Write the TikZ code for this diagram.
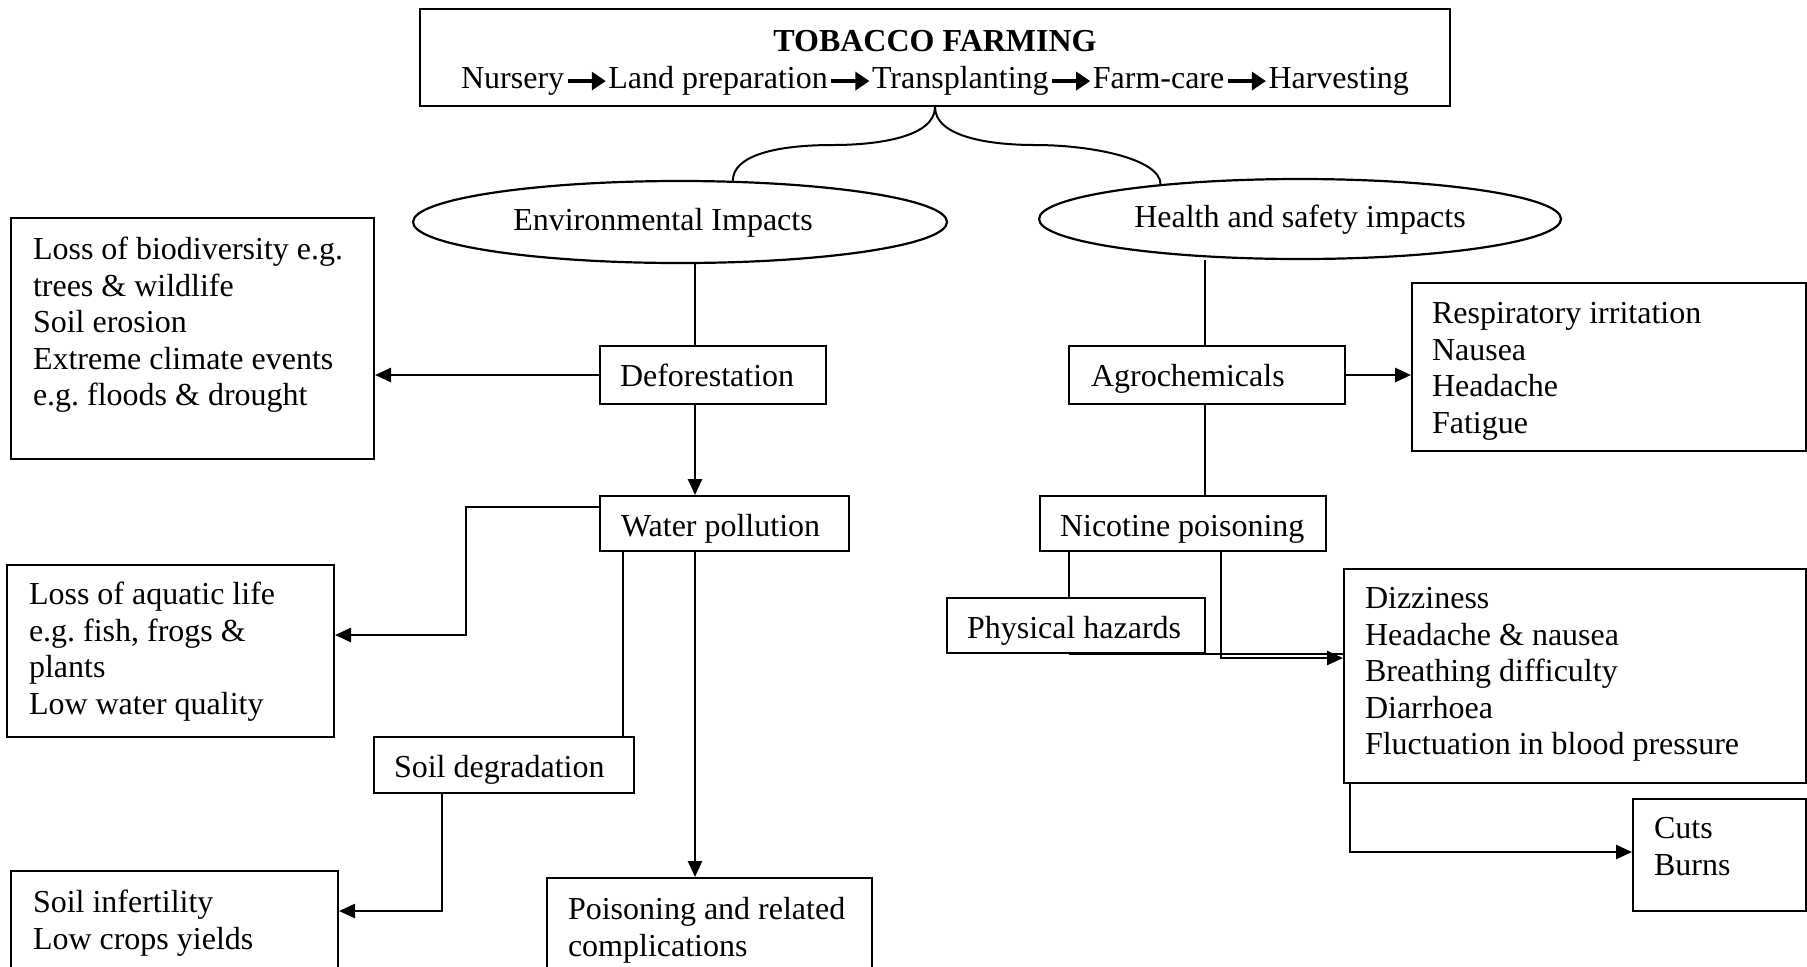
\documentclass[tikz,border=0pt]{standalone}
\usepackage{fontspec}
\setmainfont{Liberation Serif}
\usetikzlibrary{shapes.geometric,arrows.meta,calc}
\frenchspacing

\newcommand\mtext[5]{\parbox[c][#2][t]{#1}{\vspace*{#4}\leftskip=#3\relax\rightskip=0pt plus 1fil\parindent=0pt\parfillskip=0pt plus 1fil\frenchspacing\strut #5}}
\newcommand\ctext[4]{\parbox[c][#2][t]{#1}{\vspace*{#3}\centering\strut #4}}
\newcommand\tfarrow{\hspace{1pt}\tikz[baseline=-3.5pt]\draw[line width=1.6pt,-{Triangle[length=7pt,width=9pt]}] (0pt,0pt) -- (19pt,0pt);\hspace{0.5pt}}

\tikzset{
  bx/.style={draw, line width=1pt, rectangle, inner sep=0pt, anchor=north west},
  ell/.style={draw, line width=1.1pt, ellipse, inner sep=0pt, text height=11pt, text depth=3pt},
  ln/.style={line width=0.7pt},
  thk/.style={line width=1.3pt},
  arr/.style={line width=1.3pt, -{Triangle[length=8pt,width=7pt]}},
  brc/.style={line width=1pt},
}

\begin{document}
\begin{tikzpicture}[x=0.5pt,y=-0.5pt,font=\fontsize{16pt}{18.25pt}\selectfont]
\useasboundingbox (0,0) rectangle (1807,966);
\clip (0,0) rectangle (1807,966);

% top box
\node[bx] (top) at (419,8) {\ctext{515pt}{48.5pt}{8.5pt}{\textbf{TOBACCO FARMING}\\Nursery\tfarrow Land preparation\tfarrow Transplanting\tfarrow Farm-care\tfarrow Harvesting}};

% ellipses
\node[ell, minimum width=267pt, minimum height=41pt] (env) at (680,222) {\hspace*{-17pt}Environmental Impacts};
\node[ell, minimum width=261pt, minimum height=40pt] (health) at (1300,219) {Health and safety impacts};

% left side boxes
\node[bx] (bio) at (10,217) {\mtext{181.5pt}{120.5pt}{11pt}{8pt}{Loss of biodiversity e.g.\\trees \& wildlife\\Soil erosion\\Extreme climate events\\e.g. floods \& drought}};
\node[bx] (defor) at (599,345) {\mtext{113pt}{29pt}{10pt}{7.5pt}{Deforestation}};
\node[bx] (wp) at (599,495) {\mtext{124.5pt}{27.5pt}{10.5pt}{7.5pt}{Water pollution}};
\node[bx] (aqua) at (6,564) {\mtext{163.5pt}{86pt}{11pt}{7pt}{Loss of aquatic life\\e.g. fish, frogs \&\\plants\\Low water quality}};
\node[bx] (soil) at (373,736) {\mtext{130pt}{28pt}{10pt}{7.5pt}{Soil degradation}};
\node[bx] (inf) at (10,870) {\mtext{163.5pt}{65pt}{11pt}{8pt}{Soil infertility\\Low crops yields}};
\node[bx] (pois) at (546,877) {\mtext{162.5pt}{62pt}{10.5pt}{8pt}{Poisoning and related\\complications}};

% right side boxes
\node[bx] (agro) at (1068,345) {\mtext{138pt}{29pt}{11pt}{7.5pt}{Agrochemicals}};
\node[bx] (resp) at (1411,282) {\mtext{197pt}{84pt}{10pt}{7.5pt}{Respiratory irritation\\Nausea\\Headache\\Fatigue}};
\node[bx] (nic) at (1039,495) {\mtext{143pt}{27.5pt}{10pt}{7.5pt}{Nicotine poisoning}};
\node[bx] (phys) at (946,597) {\mtext{129pt}{27.5pt}{10pt}{7.5pt}{Physical hazards}};
\node[bx] (dizz) at (1343,568) {\mtext{231pt}{107pt}{10.5pt}{7pt}{Dizziness\\Headache \& nausea\\Breathing difficulty\\Diarrhoea\\Fluctuation in blood pressure}};
\node[bx] (cuts) at (1632,798) {\mtext{86.5pt}{56pt}{10.5pt}{7pt}{Cuts\\Burns}};

% brace
\coordinate (bl) at (833,145);
\coordinate (br) at (1035,145);
\draw[brc] (top.south) .. controls +(0,30) and +(45,0) .. (bl) .. controls +(-58,0) and +(0,-25) .. (env.38);
\draw[brc] (top.south) .. controls +(0,30) and +(-45,0) .. (br) .. controls +(58,0) and +(0,-25) .. (health.166);

% environmental connectors
\coordinate (d1) at ([xshift=48pt]defor.north west);
\draw[ln] (env.south -| d1) -- (d1);
\draw[arr] (defor.west) -- (defor.west -| bio.east);
\coordinate (d2) at ([xshift=48pt]defor.south west);
\draw[arr] (d2) -- (d2 |- wp.north);
\coordinate (w1) at ([yshift=-6pt]wp.north west);
\draw[arr] (w1) -- ++(-133,0) |- ([yshift=8pt]aqua.east);
\coordinate (w2) at ([xshift=12pt]wp.south west);
\draw[ln] (w2) -- (w2 |- soil.north);
\coordinate (w3) at ([xshift=48pt]wp.south west);
\draw[arr] (w3) -- (w3 |- pois.north);
\coordinate (s1) at ([xshift=34.5pt]soil.south west);
\draw[arr] (s1) |- ([yshift=12.5pt]inf.east);

% health connectors
\coordinate (h1) at ([xshift=68.5pt]agro.north west);
\draw[ln] (health.south -| h1) -- (h1);
\draw[arr] (agro.east) -- (agro.east -| resp.west);
\coordinate (h2) at ([xshift=68.5pt]agro.south west);
\draw[ln] (h2) -- (h2 |- nic.north);
\coordinate (n1) at ([xshift=15pt]nic.south west);
\draw[ln] (n1) -- (n1 |- phys.north);
\coordinate (p1) at ([xshift=61.5pt]phys.south west);
\draw[thk] (p1) -- (p1 -| dizz.west);
\coordinate (n2) at ([xshift=91pt]nic.south west);
\draw[arr] (n2) |- ([yshift=9pt]dizz.west);
\coordinate (z1) at ([xshift=3.5pt]dizz.south west);
\draw[arr] (z1) |- ([yshift=1.5pt]cuts.west);
\end{tikzpicture}
\end{document}
